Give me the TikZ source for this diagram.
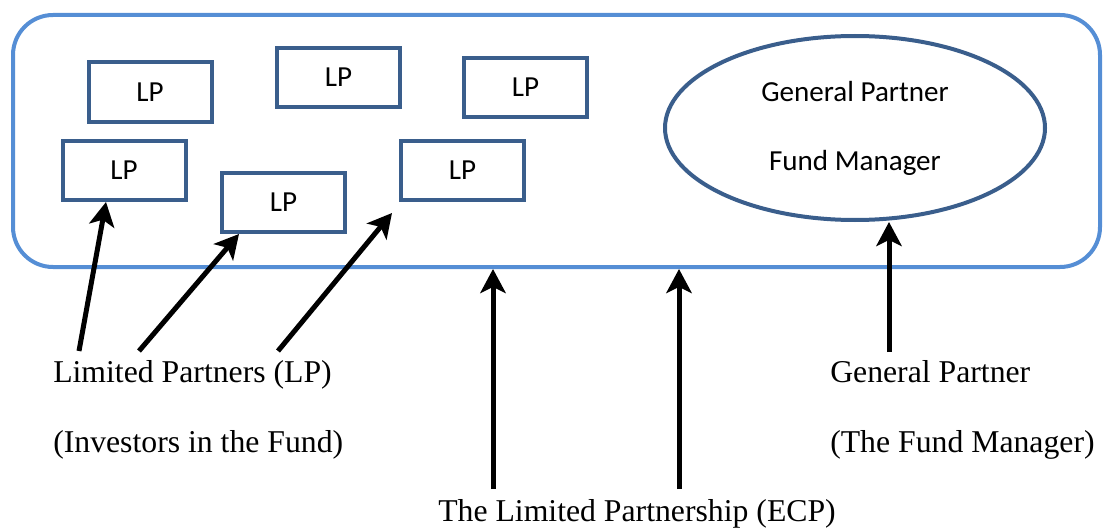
\documentclass[tikz,border=0pt]{standalone}
\usepackage{fontspec}
\setmainfont{Liberation Serif}
\newfontfamily\lpfont{Carlito}
\usetikzlibrary{arrows.meta,shapes.geometric,calc}
\definecolor{frameblue}{HTML}{558ED5}
\definecolor{boxblue}{HTML}{3A5E8C}
\tikzset{
  lpbox/.style={draw=boxblue, line width=3pt, minimum width=92.25pt, minimum height=44.25pt, inner sep=0pt, font=\lpfont\fontsize{21.8pt}{26pt}\selectfont},
  gpell/.style={draw=boxblue, line width=3pt, ellipse, minimum width=285pt, minimum height=138pt, inner sep=0pt},
  frame/.style={draw=frameblue, line width=3pt, rounded corners=30pt, minimum width=815.25pt, minimum height=189pt, inner sep=0pt},
  sanslbl/.style={font=\lpfont\fontsize{21.8pt}{26pt}\selectfont, inner sep=0pt, anchor=base},
  seriflbl/.style={font=\fontsize{23.8pt}{28pt}\selectfont, inner sep=0pt, anchor=base west},
  arr/.style={line width=3.75pt, -{Stealth[length=18pt, width=19pt, inset=4.5pt]}},
}
\begin{document}
\begin{tikzpicture}[x=0.75pt, y=-0.75pt]
\useasboundingbox (0,0) rectangle (1103,528);
% the partnership frame
\node[frame] (ecp) at (556.5,141) {};
% LP boxes
\node[lpbox] (lp1) at (150,92) {LP};
\node[lpbox] (lp2) at (338.5,77.5) {LP};
\node[lpbox] (lp3) at (525.5,87.5) {LP};
\node[lpbox] (lp4) at (124,170.5) {LP};
\node[lpbox] (lp5) at (283.5,202.5) {LP};
\node[lpbox] (lp6) at (462.5,170.5) {LP};
% general partner ellipse
\node[gpell] (gp) at (855,128) {};
\node[sanslbl] (gpt1) at (855,102) {General Partner};
\node[sanslbl] (gpt2) at (855,170) {Fund Manager};
% labels
\node[seriflbl] (lpl1) at (53,382) {Limited Partners (LP)};
\node[seriflbl] (lpl2) at (53,452) {(Investors in the Fund)};
\node[seriflbl] (gpl1) at (830,382) {General Partner};
\node[seriflbl] (gpl2) at (830,452) {(The Fund Manager)};
\node[seriflbl] (ecpl) at (438,521) {The Limited Partnership (ECP)};
% arrow tails and tips
\coordinate (t1) at (79,351);
\coordinate (t2) at (139,351);
\coordinate (t3) at (278,351);
\coordinate (t4) at (493,489);
\coordinate (t5) at (679,489);
\coordinate (t6) at (889,352);
\coordinate (h3) at ($(lp6.south west)+(-7,11)$);
\draw[arr] (t1) -- (106,0 |- lp4.south);
\draw[arr] (t2) -- (239,0 |- lp5.south);
\draw[arr] (t3) -- (h3);
\draw[arr] (t4) -- (493,0 |- ecp.south);
\draw[arr] (t5) -- (679,0 |- ecp.south);
\draw[arr] (t6) -- (889,0 |- gp.south);
\end{tikzpicture}
\end{document}
